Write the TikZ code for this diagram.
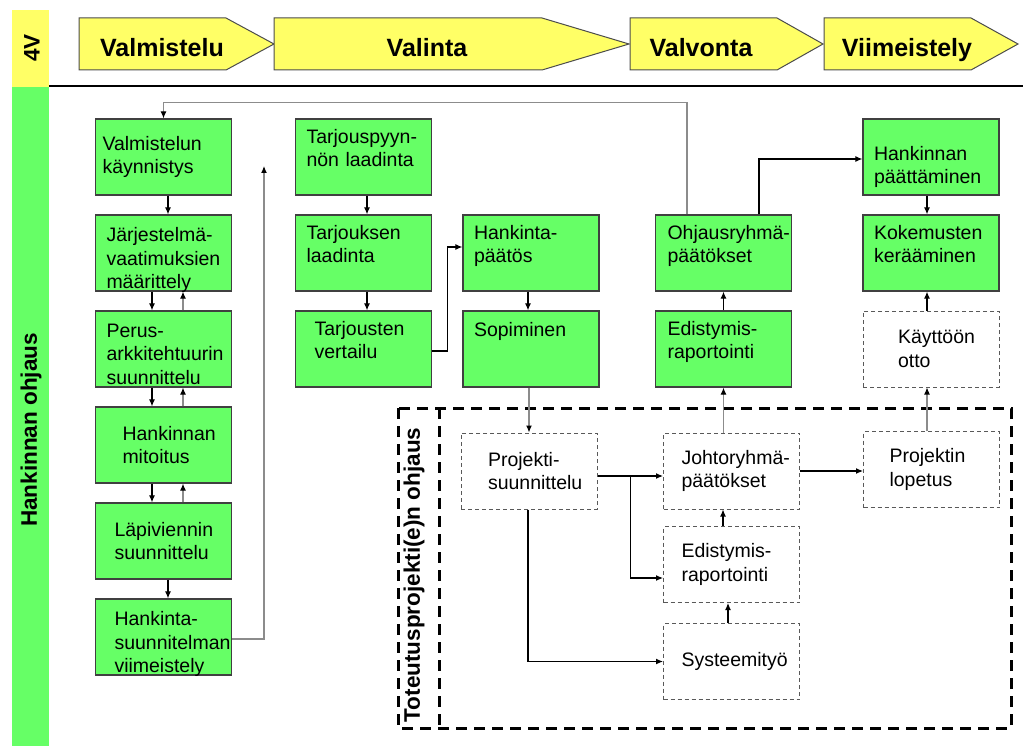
\documentclass[tikz,border=0pt]{standalone}
\usepackage{fontspec}
\setmainfont{Liberation Sans}
\usetikzlibrary{arrows.meta}
\definecolor{boxgreen}{RGB}{102,255,102}
\definecolor{phaseyellow}{RGB}{255,255,102}
\hyphenpenalty=10000
\exhyphenpenalty=10000

\begin{document}
\begin{tikzpicture}[x=1pt,y=-1pt]
    \tikzset{box/.style = {draw=black!75, line width=1.3pt, fill=boxgreen, minimum width=136pt, minimum height=76pt, inner sep=0pt, align=left, text width=114pt, font=\fontsize{19.5}{23.5}\selectfont}}
    \tikzset{dbox/.style = {box, fill=white, draw=black!65, line width=1pt, dash pattern=on 4pt off 3pt}}
    \tikzset{hi/.style = {text depth=41.5pt}}
    \tikzset{phase/.style = {font=\bfseries\fontsize{25}{30}\selectfont, text height=18pt, text depth=5pt}}
    \tikzset{side/.style = {font=\bfseries\fontsize{22.5}{27}\selectfont, rotate=90}}
    \tikzset{chevron/.style = {fill=phaseyellow, draw=black!70, line width=1pt}}
    \tikzset{link/.style = {->, line width=1.1pt, > = {Latex[length=7pt,width=6pt]}}}
    \tikzset{glink/.style = {link, draw=black!45, > = {Latex[length=7pt,width=6pt,color=black]}}}
    \tikzset{frame/.style = {line width=3pt, dash pattern=on 11pt off 7pt}}

    \useasboundingbox (0,0) rectangle (1023,746);

    % side bars and phase row
    \fill[phaseyellow] (12,10) rectangle (49,87);
    \fill[boxgreen] (12,87) rectangle (49,746);
    \draw[line width=1.1pt] (49,86) -- (1023,86);
    \node[side] (fourv) at (32,48) {4V};
    \node[side] (hankohj) at (31,430) {Hankinnan ohjaus};

    \draw[chevron] (79,18) -- (226,18) -- (274,44) -- (226,70) -- (79,70) -- cycle;
    \draw[chevron] (274,18) -- (542,18) -- (629,44) -- (542,70) -- (274,70) -- cycle;
    \draw[chevron] (630,18) -- (777,18) -- (823,44) -- (777,70) -- (630,70) -- cycle;
    \draw[chevron] (824,18) -- (971,18) -- (1018,44) -- (971,70) -- (824,70) -- cycle;
    \node[phase] (valm) at (162,50.5) {Valmistelu};
    \node[phase] (vali) at (427,50.5) {Valinta};
    \node[phase] (valv) at (701,50.5) {Valvonta};
    \node[phase] (viim) at (907,50.5) {Viimeistely};

    % project frame
    \draw[frame] (398,408) rectangle (1011,728);
    \draw[frame] (439,408) -- (439,728);
    \node[side] (toteutus) at (414,575) {Toteutusprojekti(e)n ohjaus};

    % preparation
    \node[box, text width=122pt] (vk) at (163.5,157) {Valmistelun\\käynnistys};
    \node[box, text depth=37pt] (jv) at (163.5,253) {Järjestelmä-\\vaatimuksien\\määrittely};
    \node[box, text depth=37pt] (pa) at (163.5,349) {Perus-\\arkkitehtuurin\\suunnittelu};
    \node[box, text width=82pt] (hm) at (163.5,445) {Hankinnan\\mitoitus};
    \node[box, text width=98pt] (ls) at (163.5,541) {Läpiviennin\\suunnittelu};
    \node[box, text width=98pt, text depth=37pt] (hs) at (163.5,637) {Hankinta-\\suunnitelman\\viimeistely};

    % selection
    \node[box, hi] (tp) at (363.5,157) {Tarjouspyyn-\\nön laadinta};
    \node[box, hi] (tl) at (363.5,253) {Tarjouksen\\laadinta};
    \node[box, hi, text width=98pt] (tv) at (363.5,349) {Tarjousten\\vertailu};
    \node[box, hi] (hp) at (531,253) {Hankinta-\\päätös};
    \node[box, text depth=40pt] (so) at (531,349) {Sopiminen};

    % monitoring
    \node[box, hi, text width=112pt] (op) at (723.5,253) {Ohjausryhmä-\\päätökset};
    \node[box, hi, text width=112pt] (eg) at (723.5,349) {Edistymis-\\raportointi};

    % finishing
    \node[box, text height=34pt] (ht) at (931,157) {Hankinnan\\päättäminen};
    \node[box, hi] (kk) at (931,253) {Kokemusten\\kerääminen};
    \node[dbox, text width=66pt] (ko) at (931,349) {Käyttöön\\otto};

    % project boxes
    \node[dbox, text width=82pt] (ps) at (529,471) {Projekti-\\suunnittelu};
    \node[dbox, text width=100pt] (jp) at (731.5,471) {Johtoryhmä-\\päätökset};
    \node[dbox, text width=84pt] (pl) at (931.5,469.5) {Projektin\\lopetus};
    \node[dbox, text width=100pt] (ed) at (731.5,564.5) {Edistymis-\\raportointi};
    \node[dbox, text width=100pt] (st) at (731.5,661.5) {Systeemityö};

    % connectors
    \draw[glink] ([xshift=-36.5pt]op.north) -- ++(0,-112) -| (vk.north);
    \draw[link] ([xshift=4.5pt]vk.south) -- ([xshift=4.5pt]jv.north);
    \foreach \a/\b in {jv/pa, pa/hm, hm/ls} {
        \draw[link] ([xshift=-11.5pt]\a.south) -- ([xshift=-11.5pt]\b.north);
        \draw[glink] ([xshift=19.5pt]\b.north) -- ([xshift=19.5pt]\a.south);
    }
    \draw[link] ([xshift=4.5pt]ls.south) -- ([xshift=4.5pt]hs.north);
    \coordinate (loopend) at (264,166);
    \draw[glink] ([yshift=-2pt]hs.east) -| (loopend);

    \draw[link] ([xshift=3.5pt]tp.south) -- ([xshift=3.5pt]tl.north);
    \draw[link] ([xshift=3.5pt]tl.south) -- ([xshift=3.5pt]tv.north);
    \draw[link] ([yshift=-2pt]tv.east) -- ++(15,0) |- ([yshift=6pt]hp.west);
    \draw[link] ([xshift=-3pt]hp.south) -- ([xshift=-3pt]so.north);
    \draw[glink] (ps.north |- so.south) -- (ps.north);

    \draw[link] (eg.north) -- (op.south);
    \draw[glink] (eg.south |- jp.north) -- (eg.south);
    \draw[link] ([xshift=35.5pt]op.north) |- ([yshift=-2pt]ht.west);
    \draw[link] ([xshift=-4pt]ht.south) -- ([xshift=-4pt]kk.north);
    \draw[link] ([xshift=-4pt]ko.north) -- ([xshift=-4pt]kk.south);
    \draw[glink] ([xshift=-4.5pt]pl.north) -- ([xshift=-4pt]ko.south);

    \draw[link] ([yshift=-5pt]ps.east) -- ([yshift=-5pt]jp.west);
    \draw[link] ([xshift=33pt,yshift=-5pt]ps.east) |- ([yshift=-13.5pt]ed.west);
    \draw[link] ([xshift=-1pt]ps.south) |- (st.west);
    \draw[link] (jp.east) -- (jp.east -| pl.west);
    \draw[link] ([xshift=-3.5pt]st.north) -- ([xshift=-3.5pt]ed.south);
    \draw[link] ([xshift=-8.5pt]ed.north) -- ([xshift=-8.5pt]jp.south);
\end{tikzpicture}
\end{document}
